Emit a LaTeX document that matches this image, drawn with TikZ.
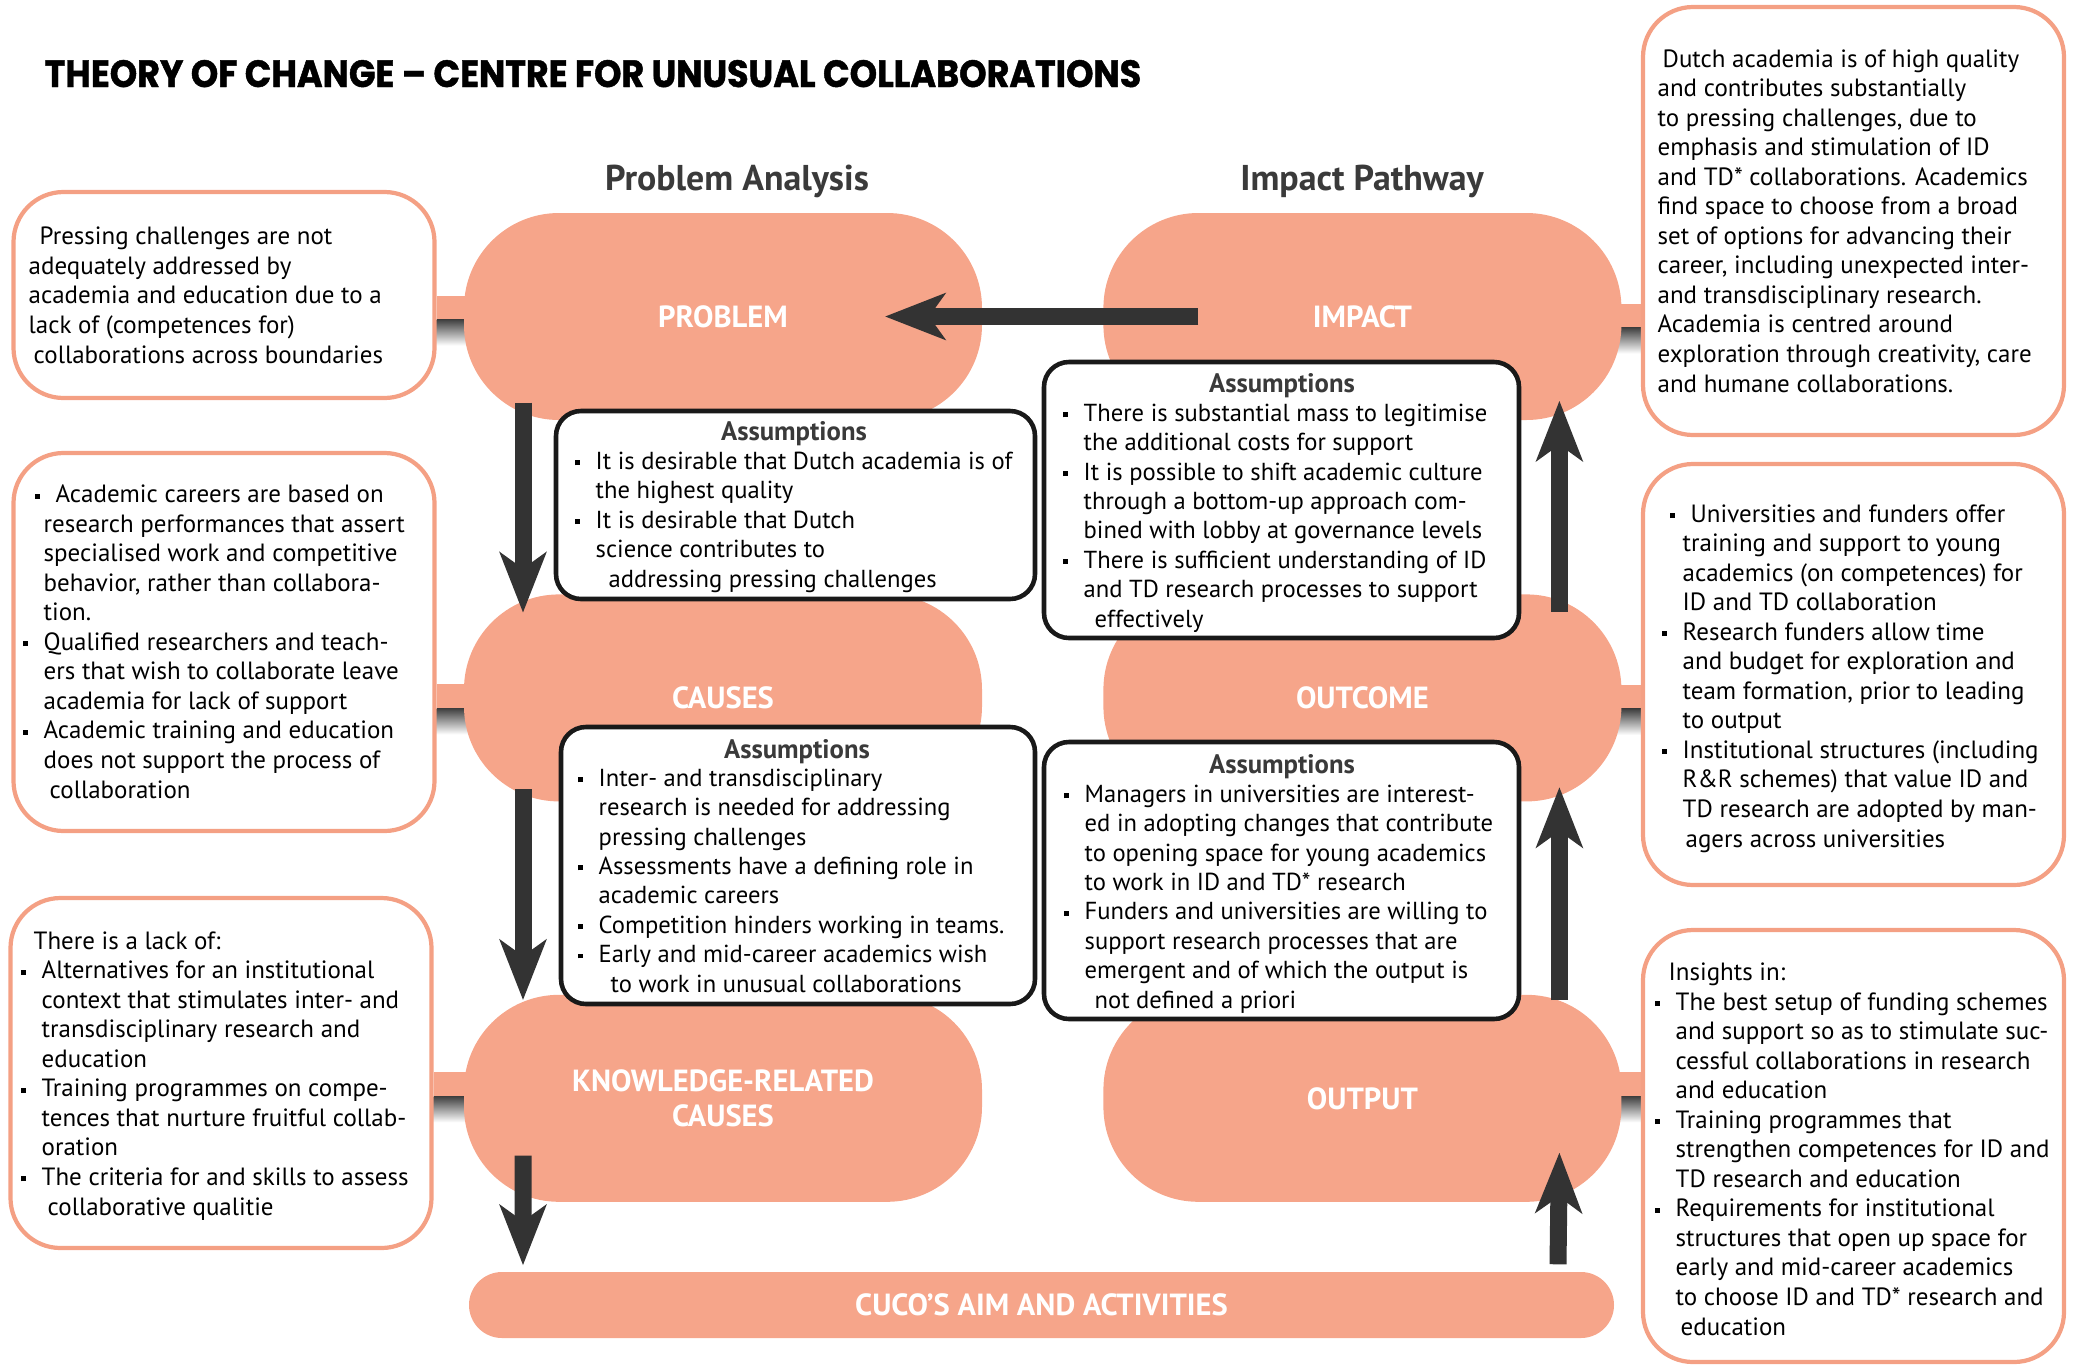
\documentclass[tikz,border=0pt]{standalone}
\usepackage{fontspec}
\setmainfont{PT Sans}
\newfontfamily\titlefont{Poppins}[FakeStretch=0.92,FakeBold=1.2]
\usetikzlibrary{positioning,arrows.meta,backgrounds}

\definecolor{salmon}{RGB}{246,165,138}
\definecolor{boxline}{RGB}{244,160,132}
\definecolor{arrowgray}{RGB}{51,51,51}
\definecolor{headgray}{RGB}{58,58,58}

% hanging square bullet
\newcommand{\bl}{\makebox[0pt][r]{\rule[1.2pt]{1.4pt}{1.4pt}\hspace{4.5pt}}}

\begin{document}
\begin{tikzpicture}[
oval/.style={fill=salmon,rounded corners=0.95cm,minimum width=5.18cm,minimum height=2.07cm,
    text=white,align=center,font=\fontsize{8.7pt}{10.2pt}\selectfont\bfseries},
sidebox/.style={draw=boxline,line width=1.2pt,fill=white,rounded corners=0.5cm,minimum width=4.21cm},
abox/.style={draw=black!90,line width=1.3pt,fill=white,rounded corners=0.25cm},
txt/.style={font=\fontsize{7.1pt}{8.4pt}\selectfont,align=left,inner sep=0pt},
atxt/.style={font=\fontsize{7.0pt}{8.35pt}\selectfont,align=left,inner sep=0pt},
atitle/.style={font=\fontsize{7.6pt}{8.4pt}\selectfont\bfseries,text=headgray,inner sep=0pt},
heading/.style={font=\fontsize{10.2pt}{12pt}\selectfont\bfseries,text=headgray,inner sep=0pt},
titletext/.style={font=\titlefont\fontsize{10.8pt}{12pt}\selectfont\bfseries,inner sep=0pt},
bigarrow/.style={draw=arrowgray,line width=1.7mm,-{Stealth[length=6mm,width=4.6mm,inset=1.6mm]}}]
\path[use as bounding box] (0,0) rectangle (20.78,-13.65);

% headings
\node[titletext,anchor=base west] (title) at (0.44,-0.87) {THEORY OF CHANGE – CENTRE FOR UNUSUAL COLLABORATIONS};
\node[heading,anchor=base] (hprob) at (7.37,-1.90) {Problem Analysis};
\node[heading,anchor=base] (himp) at (13.62,-1.90) {Impact Pathway};

% main chain
\node[oval] (problem) at (7.23,-3.165) {PROBLEM};
\node[oval,right=1.2cm of problem] (impact) {IMPACT};
\node[oval,below=1.73cm of problem] (causes) {CAUSES};
\node[oval,below=1.73cm of impact] (outcome) {OUTCOME};
\node[oval,below=1.92cm of causes] (krc) {KNOWLEDGE-RELATED\\CAUSES};
\node[oval,below=1.92cm of outcome] (output) {OUTPUT};
\node[oval,rounded corners=0.33cm,minimum width=11.45cm,minimum height=0.66cm] (cuco) at (10.415,-13.05) {CUCO’S AIM AND ACTIVITIES};

% side boxes
\node[sidebox,minimum height=2.06cm] (pbox) at (2.24,-2.95) {};
\node[sidebox,minimum height=3.78cm] (cbox) at (2.24,-6.42) {};
\node[sidebox,minimum height=3.50cm] (kbox) at (2.21,-10.73) {};
\node[sidebox,minimum height=4.28cm] (ibox) at (18.535,-2.21) {};
\node[sidebox,minimum height=4.21cm] (obox) at (18.535,-6.745) {};
\node[sidebox,minimum height=4.32cm] (tbox) at (18.535,-11.46) {};

% links from the side boxes, with their shadow
\begin{scope}[on background layer]
\foreach \b/\o/\dy in {pbox.east/problem/0.09,cbox.east/causes/0.015,kbox.east/krc/0.14,
                      ibox.west/impact/0.01,obox.west/outcome/0.01,tbox.west/output/0.14} {
  \coordinate (cn) at (\b |- \o.center);
  \fill[salmon] ([yshift=\dy cm+1.2mm]cn) rectangle ([yshift=\dy cm-1.2mm]\o.center);
  \shade[top color=black!75,bottom color=white] ([yshift=\dy cm-1.2mm]cn) rectangle ([yshift=\dy cm-3.8mm]\o.center);
}
\end{scope}

% box texts (placed by the baseline of their last line)
\node[txt,anchor=base west] (ptext) at (0.28,-3.63) {\hspace*{1.1mm}Pressing challenges are not\\adequately addressed by\\academia and education due to a\\lack of (competences for)\\\hspace*{0.5mm}collaborations across boundaries};
\node[txt,anchor=base west] (ctext) at (0.43,-7.98) {\hspace*{1.2mm}\bl Academic careers are based on\\research performances that assert\\specialised work and competitive\\behavior, rather than collabora-\\tion.\\\bl Qualified researchers and teach-\\ers that wish to collaborate leave\\academia for lack of support\\\bl Academic training and education\\does not support the process of\\\hspace*{0.6mm}collaboration};
\node[txt,anchor=base west] (ktext) at (0.41,-12.15) {\hspace*{-0.8mm}There is a lack of:\\\bl Alternatives for an institutional\\context that stimulates inter- and\\transdisciplinary research and\\education\\\bl Training programmes on compe-\\tences that nurture fruitful collab-\\oration\\\bl The criteria for and skills to assess\\\hspace*{0.6mm}collaborative qualitie};
\node[txt,anchor=base west] (itext) at (16.57,-3.92) {\hspace*{0.5mm}Dutch academia is of high quality\\and contributes substantially\\to pressing challenges, due to\\emphasis and stimulation of ID\\and TD* collaborations. Academics\\find space to choose from a broad\\set of options for advancing their\\career, including unexpected inter-\\and transdisciplinary research.\\Academia is centred around\\exploration through creativity, care\\and humane collaborations.};
\node[txt,anchor=base west] (otext) at (16.82,-8.47) {\hspace*{0.8mm}\bl Universities and funders offer\\training and support to young\\academics (on competences) for\\ID and TD collaboration\\\bl Research funders allow time\\and budget for exploration and\\team formation, prior to leading\\to output\\\bl Institutional structures (including\\R\&R schemes) that value ID and\\TD research are adopted by man-\\\hspace*{0.3mm}agers across universities};
\node[txt,anchor=base west] (ttext) at (16.75,-13.35) {\hspace*{-0.7mm}Insights in:\\\bl The best setup of funding schemes\\and support so as to stimulate suc-\\cessful collaborations in research\\and education\\\bl Training programmes that\\strengthen competences for ID and\\TD research and education\\\bl Requirements for institutional\\structures that open up space for\\early and mid-career academics\\to choose ID and TD* research and\\\hspace*{0.5mm}education};

% assumptions
\node[abox,minimum width=4.79cm,minimum height=1.88cm] (as1) at (7.955,-5.05) {};
\node[atitle,anchor=base] (as1t) at (7.94,-4.40) {Assumptions};
\node[atxt,anchor=base west] (as1x) at (5.95,-5.87) {\bl It is desirable that Dutch academia is of\\the highest quality\\\bl It is desirable that Dutch\\science contributes to\\\hspace*{1.3mm}addressing pressing challenges};

\node[abox,minimum width=4.75cm,minimum height=2.76cm] (as2) at (12.815,-5.0) {};
\node[atitle,anchor=base] (as2t) at (12.82,-3.92) {Assumptions};
\node[atxt,anchor=base west] (as2x) at (10.83,-6.27) {\bl There is substantial mass to legitimise\\the additional costs for support\\\bl It is possible to shift academic culture\\through a bottom-up approach com-\\bined with lobby at governance levels\\\bl There is sufficient understanding of ID\\and TD research processes to support\\\hspace*{1.1mm}effectively};

\node[abox,minimum width=4.74cm,minimum height=2.77cm] (as3) at (7.98,-8.655) {};
\node[atitle,anchor=base] (as3t) at (7.97,-7.58) {Assumptions};
\node[atxt,anchor=base west] (as3x) at (5.98,-9.92) {\bl Inter- and transdisciplinary\\research is needed for addressing\\pressing challenges\\\bl Assessments have a defining role in\\academic careers\\\bl Competition hinders working in teams.\\\bl Early and mid-career academics wish\\\hspace*{1.2mm}to work in unusual collaborations};

\node[abox,minimum width=4.75cm,minimum height=2.77cm] (as4) at (12.815,-8.805) {};
\node[atitle,anchor=base] (as4t) at (12.82,-7.73) {Assumptions};
\node[atxt,anchor=base west] (as4x) at (10.84,-10.08) {\bl Managers in universities are interest-\\ed in adopting changes that contribute\\to opening space for young academics\\to work in ID and TD* research\\\bl Funders and universities are willing to\\support research processes that are\\emergent and of which the output is\\\hspace*{1mm}not defined a priori};

% arrows
\draw[bigarrow] ([xshift=-1.64cm]impact.center) -- ([xshift=1.62cm]problem.center);
\draw[bigarrow] ([xshift=-2cm,yshift=1.8mm]problem.south) -- ([xshift=-2cm,yshift=-1.9mm]causes.north);
\draw[bigarrow] ([xshift=-2cm,yshift=1.3mm]causes.south) -- ([xshift=-2cm,yshift=-0.6mm]krc.north);
\draw[bigarrow] ([xshift=-2cm,yshift=4.7mm]krc.south) -- ([xshift=-5.185cm,yshift=0.6mm]cuco.north);
\draw[bigarrow] ([xshift=5.165cm,yshift=0.7mm]cuco.north) -- ([xshift=1.97cm,yshift=5mm]output.south);
\draw[bigarrow] ([xshift=1.97cm,yshift=-0.6mm]output.north) -- ([xshift=1.97cm,yshift=1.5mm]outcome.south);
\draw[bigarrow] ([xshift=1.97cm,yshift=-1.8mm]outcome.north) -- ([xshift=1.97cm,yshift=2mm]impact.south);
\end{tikzpicture}
\end{document}
